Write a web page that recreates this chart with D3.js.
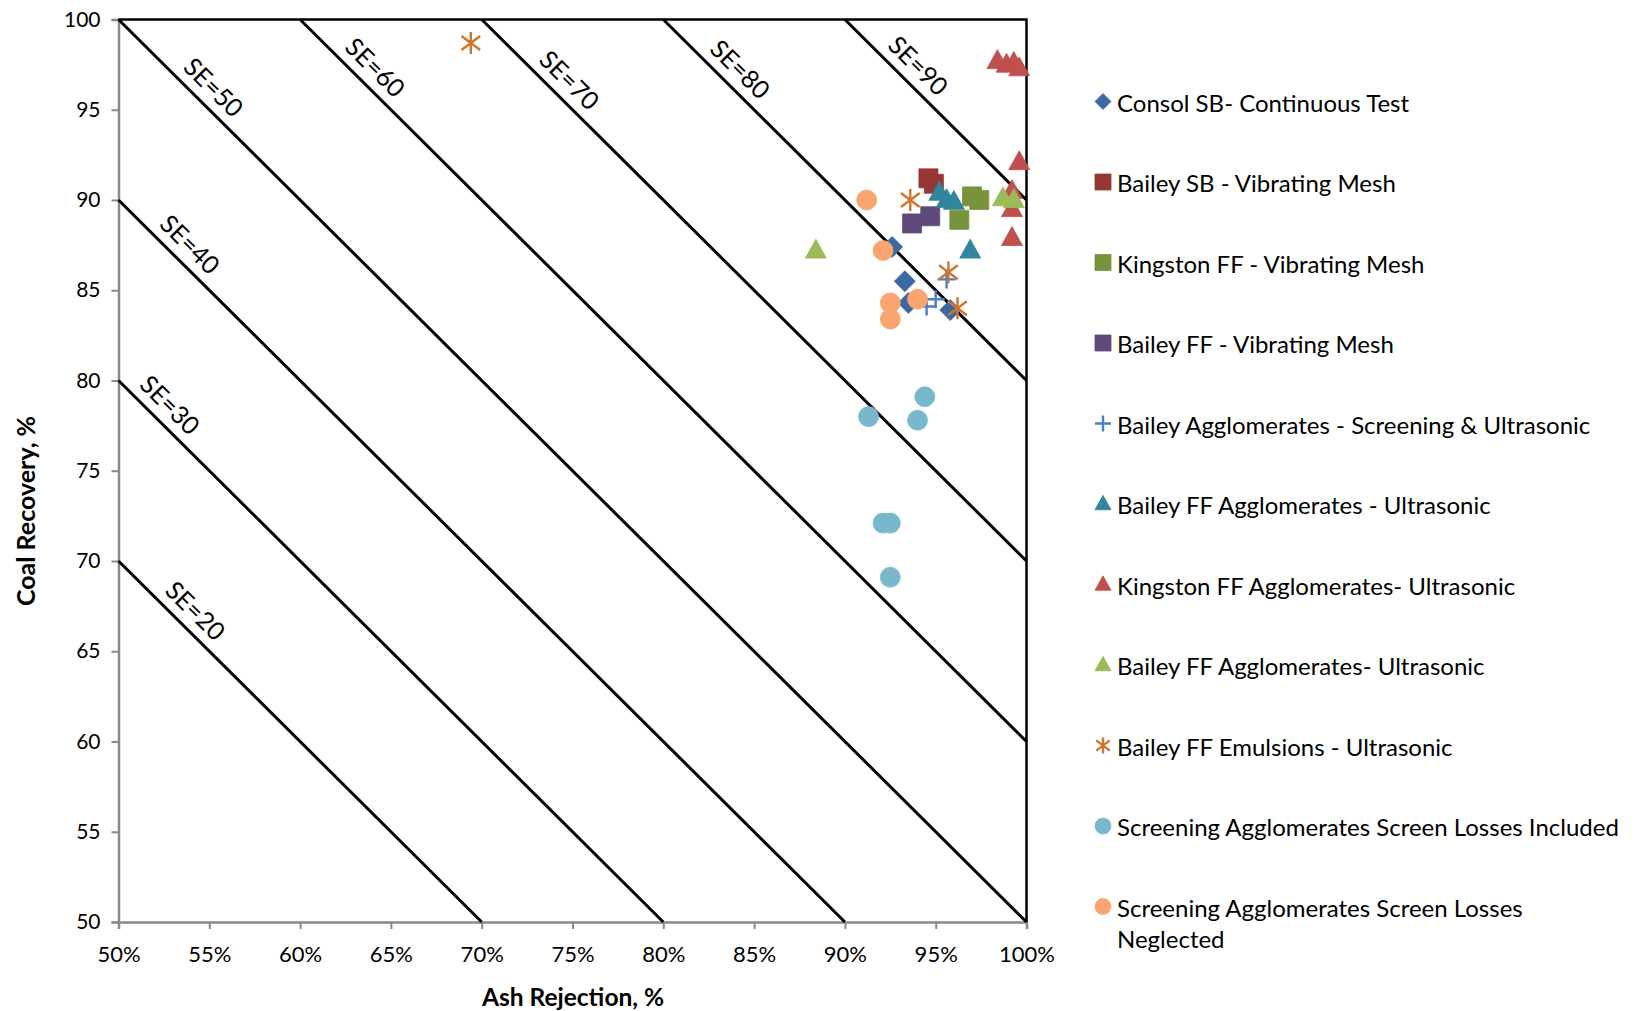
<!DOCTYPE html>
<html>
<head>
<meta charset="utf-8">
<script src="https://cdn.jsdelivr.net/npm/d3@7"></script>
<style>
  body { margin: 0; background: #fff; }
  svg { display: block; }
  text { font-family: Lato, "Open Sans", sans-serif; fill: #000; }
</style>
</head>
<body>
<svg id="chart" width="1648" height="1011"></svg>
<script>
// ---- Axis ticks ----
const xTicks = [50, 55, 60, 65, 70, 75, 80, 85, 90, 95, 100];
const yTicks = [50, 55, 60, 65, 70, 75, 80, 85, 90, 95, 100];

// ---- Separation efficiency iso-lines (SE = Recovery + Rejection - 100) ----
const seLevels = [20, 30, 40, 50, 60, 70, 80, 90];
const seLabelAt = [53.5, 52.1, 53.2, 54.5, 63.4, 74.1, 83.5, 93.3];  // ash rejection where each label sits

// ---- Series: [ash rejection %, coal recovery %] ----
const consolSB = [[92.6, 87.4], [93.3, 85.5], [93.5, 84.3], [95.8, 83.9]];
const baileySBMesh = [[94.6, 91.2], [94.9, 90.9]];
const kingstonFFMesh = [[97.0, 90.2], [97.4, 90.0], [96.3, 88.9]];
const baileyFFMesh = [[93.7, 88.7], [94.7, 89.1]];
const baileyAggScreenUltra = [[95.6, 85.6], [95.0, 84.5], [94.5, 84.1]];
const baileyFFAggUltra = [[95.2, 90.4], [95.6, 90.0], [96.0, 89.9], [96.9, 87.2]];
const kingstonFFAggUltra = [[98.4, 97.7], [98.9, 97.5], [99.3, 97.6], [99.6, 97.3],
                            [99.6, 92.1], [99.2, 90.5], [99.2, 89.5], [99.2, 87.9]];
const baileyFFAggUltra2 = [[88.4, 87.2], [98.7, 90.1], [99.3, 90.0]];
const baileyFFEmulsions = [[69.4, 98.7], [93.6, 90.0], [95.7, 86.0], [96.2, 84.0]];
const screenLossesIncluded = [[94.4, 79.1], [91.3, 78.0], [94.0, 77.8], [92.1, 72.1], [92.5, 72.1], [92.5, 69.1]];
const screenLossesNeglected = [[91.2, 90.0], [92.1, 87.2], [92.5, 84.3], [92.5, 83.4], [94.0, 84.5]];

const seriesNames = [
  "Consol SB- Continuous Test",
  "Bailey SB - Vibrating Mesh",
  "Kingston FF - Vibrating Mesh",
  "Bailey FF - Vibrating Mesh",
  "Bailey Agglomerates - Screening & Ultrasonic",
  "Bailey FF Agglomerates - Ultrasonic",
  "Kingston FF Agglomerates- Ultrasonic",
  "Bailey FF Agglomerates- Ultrasonic",
  "Bailey FF Emulsions - Ultrasonic",
  "Screening Agglomerates Screen Losses Included",
  "Screening Agglomerates Screen Losses Neglected"
];
const seriesValues = [consolSB, baileySBMesh, kingstonFFMesh, baileyFFMesh, baileyAggScreenUltra,
  baileyFFAggUltra, kingstonFFAggUltra, baileyFFAggUltra2, baileyFFEmulsions,
  screenLossesIncluded, screenLossesNeglected];
const seriesShapes = ["diamond", "square", "square", "square", "plus", "triangle", "triangle",
  "triangle", "star", "circle", "circle"];
const seriesColors = ["#3D69A3", "#953735", "#77933C", "#604A7B", "#4A7EC0", "#31859C", "#C0504D",
  "#9BBB59", "#D0742C", "#78B7CC", "#F8A570"];

const series = seriesNames.map((name, i) => ({
  name, values: seriesValues[i], shape: seriesShapes[i], color: seriesColors[i]
}));

// ---- Layout ----
const svg = d3.select("#chart");
const plot = { left: 118.5, top: 19.5, right: 1026.5, bottom: 922 };

const x = d3.scaleLinear().domain([50, 100]).range([plot.left, plot.right]);
const y = d3.scaleLinear().domain([50, 100]).range([plot.bottom, plot.top]);

// ---- Axes ----
const xAxis = svg.append("g")
  .attr("transform", `translate(0,${plot.bottom})`)
  .call(d3.axisBottom(x).tickValues(xTicks).tickSize(7).tickPadding(17)
    .tickFormat(d => d + "%"));
const yAxis = svg.append("g")
  .attr("transform", `translate(${plot.left},0)`)
  .call(d3.axisLeft(y).tickValues(yTicks).tickSize(7).tickPadding(11));

[xAxis, yAxis].forEach(g => {
  g.select(".domain").attr("stroke", "#898989").attr("stroke-width", 2.5);
  g.selectAll(".tick line").attr("stroke", "#898989").attr("stroke-width", 2);
  g.selectAll(".tick text").attr("font-size", 22).attr("fill", "#000")
    .style("font-family", "Lato, sans-serif");
});
yAxis.selectAll(".tick text").attr("font-size", 21);

// top and right frame
svg.append("path")
  .attr("d", `M${plot.left},${plot.top}H${plot.right}V${plot.bottom}`)
  .attr("fill", "none").attr("stroke", "#000").attr("stroke-width", 2.5);

// ---- SE lines ----
const angle = Math.atan2(y(50) - y(51), x(51) - x(50)) * 180 / Math.PI; // direction of SE lines
const rad = angle * Math.PI / 180;
const lineGen = d3.line().x(d => x(d[0])).y(d => y(d[1]));
seLevels.forEach((se, i) => {
  const a0 = Math.max(50, se), a1 = Math.min(100, se + 50);
  svg.append("path")
    .attr("d", lineGen([[a0, se + 100 - a0], [a1, se + 100 - a1]]))
    .attr("fill", "none").attr("stroke", "#000").attr("stroke-width", 3);
  const la = seLabelAt[i];
  const px = x(la), py = y(se + 100 - la);
  const off = 20;
  const lx = px + Math.sin(rad) * off, ly = py - Math.cos(rad) * off;
  svg.append("text")
    .attr("transform", `translate(${lx},${ly}) rotate(${angle})`)
    .attr("text-anchor", "middle").attr("dominant-baseline", "central")
    .attr("font-size", 25)
    .text("SE=" + se);
});

// ---- Markers ----
function markerPath(shape, s) {
  // s: nominal size (width) in px
  const h = s / 2;
  switch (shape) {
    case "diamond": return `M0,${-h}L${h},0L0,${h}L${-h},0Z`;
    case "square": return `M${-h},${-h}H${h}V${h}H${-h}Z`;
    case "triangle": { const th = s * 0.9; return `M0,${-th * 0.6}L${h},${th * 0.4}L${-h},${th * 0.4}Z`; }
    case "circle": return d3.arc()({ innerRadius: 0, outerRadius: h, startAngle: 0, endAngle: 2 * Math.PI });
    case "plus": return `M${-h},0H${h}M0,${-h}V${h}`;
    case "star": { const d = h * 0.85; return `M0,${-h}V${h}M${-d},${-d * 0.75}L${d},${d * 0.75}M${-d},${d * 0.75}L${d},${-d * 0.75}`; }
  }
}
function drawMarker(sel, shape, color, size) {
  const open = shape === "plus" || shape === "star";
  sel.append("path")
    .attr("d", markerPath(shape, size))
    .attr("fill", open ? "none" : color)
    .attr("stroke", color)
    .attr("stroke-width", open ? 2.4 : 0.8)
    .attr("stroke-linejoin", "miter");
}
const markerSize = { diamond: 21, square: 19, triangle: 21, circle: 20, plus: 18, star: 22 };

series.forEach(s => {
  const g = svg.append("g");
  s.values.forEach(v => {
    const m = g.append("g").attr("transform", `translate(${x(v[0])},${y(v[1])})`);
    drawMarker(m, s.shape, s.color, markerSize[s.shape]);
  });
});

// ---- Legend ----
const legend = svg.append("g");
const legendX = 1103, legendTextX = 1117, legendY0 = 101.5, legendStep = 80.5;
const legendWrap = { 10: ["Screening Agglomerates Screen Losses", "Neglected"] };
series.forEach((s, i) => {
  const yy = legendY0 + i * legendStep;
  const m = legend.append("g").attr("transform", `translate(${legendX},${yy})`);
  drawMarker(m, s.shape, s.color, 16);
  const lines = legendWrap[i] || [s.name];
  const t = legend.append("text").attr("x", legendTextX).attr("y", yy)
    .attr("dominant-baseline", "central").attr("font-size", 24);
  lines.forEach((ln, k) => t.append("tspan").attr("x", legendTextX).attr("dy", k === 0 ? 0 : 31).text(ln));
});

// ---- Axis titles ----
svg.append("text")
  .attr("x", 573).attr("y", 996)
  .attr("text-anchor", "middle").attr("dominant-baseline", "central")
  .attr("font-size", 24.5).attr("font-weight", "bold")
  .text("Ash Rejection, %");
svg.append("text")
  .attr("transform", `translate(25,511) rotate(-90)`)
  .attr("text-anchor", "middle").attr("dominant-baseline", "central")
  .attr("font-size", 25).attr("font-weight", "bold")
  .text("Coal Recovery, %");
</script>
</body>
</html>
